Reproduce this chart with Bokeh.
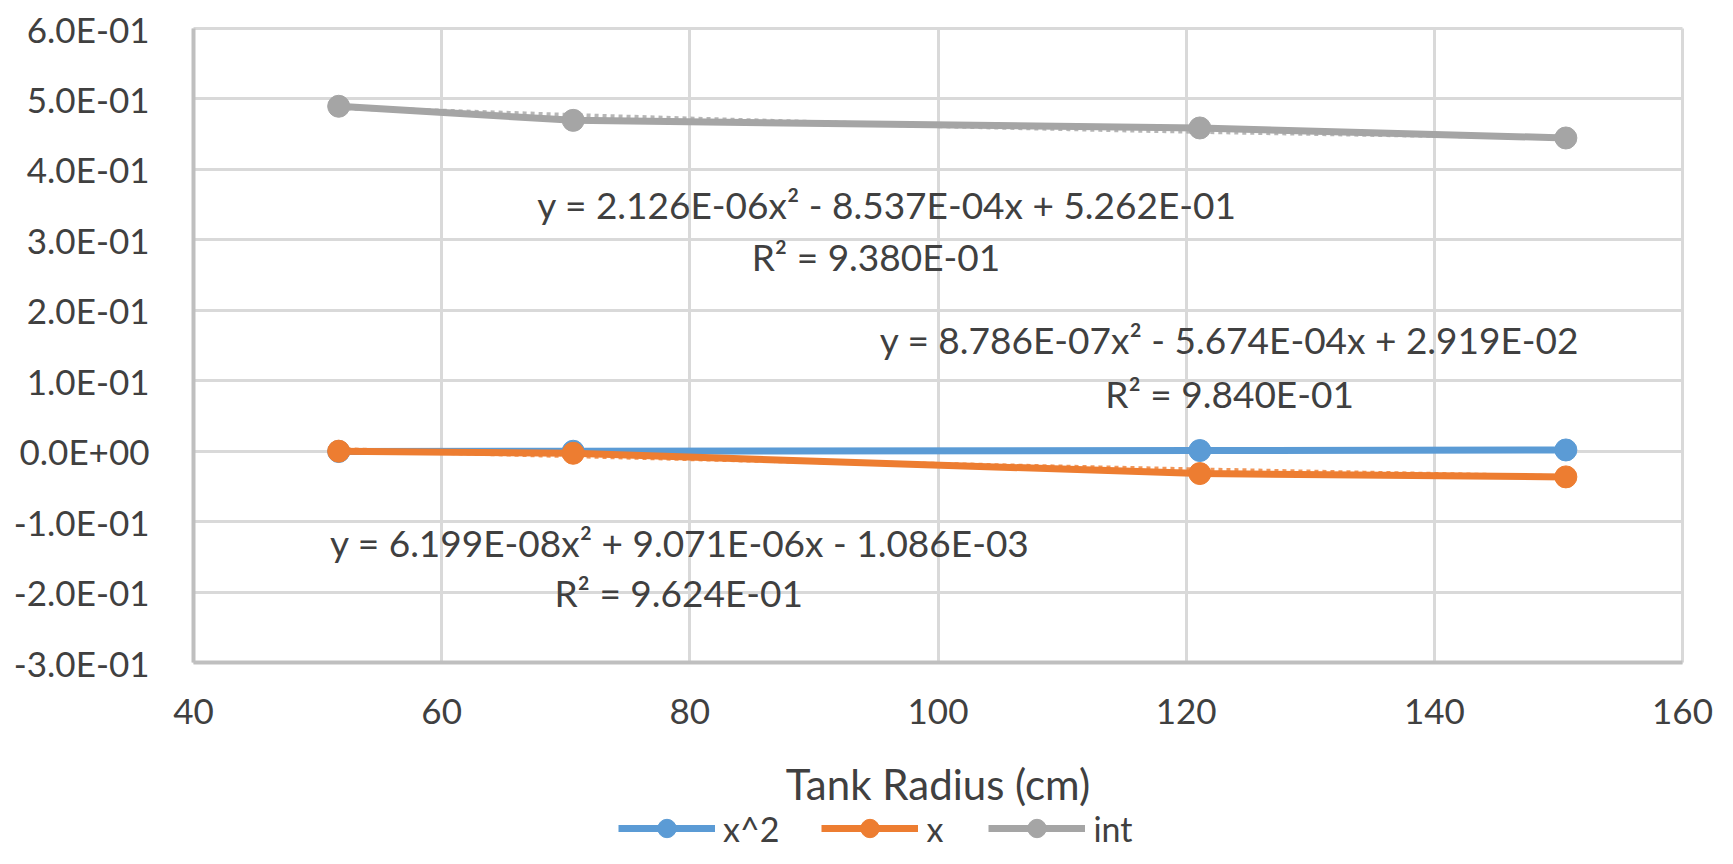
import numpy as np
from bokeh.plotting import figure
from bokeh.models import (ColumnDataSource, Range1d, FixedTicker, CustomJSTickFormatter,
                          Label, Legend, LegendItem)
from bokeh.embed import file_html
from bokeh.resources import INLINE

# ---------------- data ----------------
radius = [51.7, 70.6, 121.1, 150.6]
series_names = ["x^2", "x", "int"]
coef_x2 = [-0.0005, -0.0001, 0.0009, 0.0017]
coef_x = [0.0, -0.003, -0.0318, -0.0365]
coef_int = [0.4896, 0.4696, 0.4588, 0.4446]
colors = ["#5B9BD5", "#ED7D31", "#A5A5A5"]

# trendline coefficients (a, b, c) as printed on the chart: y = a x^2 + b x + c
trend_coefs = {
    "x^2": (6.199e-08, 9.071e-06, -1.086e-03),
    "x": (8.786e-07, -5.674e-04, 2.919e-02),
    "int": (2.126e-06, -8.537e-04, 5.262e-01),
}
trend_eq_text = {
    "int": ("y = 2.126E-06x\u00b2 - 8.537E-04x + 5.262E-01", "R\u00b2 = 9.380E-01"),
    "x": ("y = 8.786E-07x\u00b2 - 5.674E-04x + 2.919E-02", "R\u00b2 = 9.840E-01"),
    "x^2": ("y = 6.199E-08x\u00b2 + 9.071E-06x - 1.086E-03", "R\u00b2 = 9.624E-01"),
}
# label anchor positions (data coordinates)
trend_label_pos = {
    "int": ((95.9, 0.350), (95.0, 0.276)),
    "x": ((123.5, 0.158), (123.5, 0.082)),
    "x^2": ((79.2, -0.129), (79.1, -0.2005)),
}

x_min, x_max = 40, 160
y_min, y_max = -0.3, 0.6
x_ticks = [40, 60, 80, 100, 120, 140, 160]
y_ticks = [-0.3, -0.2, -0.1, 0.0, 0.1, 0.2, 0.3, 0.4, 0.5, 0.6]
y_tick_labels = ["-3.0E-01", "-2.0E-01", "-1.0E-01", "0.0E+00", "1.0E-01",
                 "2.0E-01", "3.0E-01", "4.0E-01", "5.0E-01", "6.0E-01"]
x_title = "Tank Radius (cm)"

FONT = "Lato"
TXT = "#404040"

# ---------------- layout ----------------
# The frame covers the whole canvas; the axes are pinned at x=40 / y=-0.3 so
# tick labels, axis title and legend all sit inside the drawable area.
W, H = 1717, 848
PLOT_L, PLOT_R, PLOT_T, PLOT_B = 193, 1682, 28, 662   # pixel box of the data area
ppx = (PLOT_R - PLOT_L) / (x_max - x_min)
ppy = (PLOT_B - PLOT_T) / (y_max - y_min)
x_lo = x_min - PLOT_L / ppx
x_hi = x_lo + W / ppx
y_hi = y_max + PLOT_T / ppy
y_lo = y_hi - H / ppy

p = figure(width=W, height=H, output_backend="svg", toolbar_location=None,
           x_range=Range1d(x_lo, x_hi), y_range=Range1d(y_lo, y_hi),
           min_border_left=0, min_border_right=0, min_border_top=0,
           min_border_bottom=0)
p.outline_line_color = None
p.background_fill_color = "white"
p.border_fill_color = "white"

p.xaxis.ticker = FixedTicker(ticks=x_ticks)
p.yaxis.ticker = FixedTicker(ticks=y_ticks)
p.yaxis.formatter = CustomJSTickFormatter(args=dict(tvals=y_ticks, tlabels=y_tick_labels), code="""
let best = 0;
for (let i = 0; i < tvals.length; i++) {
  if (Math.abs(tvals[i] - tick) < Math.abs(tvals[best] - tick)) best = i;
}
return tlabels[best];
""")
p.xaxis.fixed_location = y_min
p.xaxis.bounds = (x_min, x_max)
p.yaxis.fixed_location = x_min
p.yaxis.bounds = (y_min, y_max)

for ax in (p.xaxis, p.yaxis):
    ax.axis_line_color = "#BFBFBF"
    ax.axis_line_width = 4
    ax.major_tick_line_color = None
    ax.minor_tick_line_color = None
    ax.major_label_text_font = FONT
    ax.major_label_text_font_size = "35px"
    ax.major_label_text_color = TXT
p.xaxis.major_label_standoff = 30
p.yaxis.major_label_standoff = 38

p.xaxis.axis_label = x_title
p.xaxis.axis_label_text_font = FONT
p.xaxis.axis_label_text_font_size = "42px"
p.xaxis.axis_label_text_font_style = "normal"
p.xaxis.axis_label_text_color = TXT
p.xaxis.axis_label_standoff = 32

p.grid.grid_line_color = "#D9D9D9"
p.grid.grid_line_width = 3
xg, yg = p.xgrid[0], p.ygrid[0]
if "cross_bounds" in xg.properties():
    xg.cross_bounds = (y_min, y_max)
    yg.cross_bounds = (x_min, x_max)
xg.bounds = (x_min, x_max)
yg.bounds = (y_min, y_max)

# ---------------- trendlines ----------------
tx = np.linspace(radius[0], radius[-1], 80)
for name, col in zip(series_names, colors):
    a, b, c = trend_coefs[name]
    ty = a * tx ** 2 + b * tx + c
    p.line(tx, ty, line_color=col, line_width=5, line_dash="4 4", line_alpha=0.8)

# ---------------- series ----------------
series_vals = [coef_x2, coef_x, coef_int]
items = []
for name, col, vals in zip(series_names, colors, series_vals):
    src = ColumnDataSource(dict(x=radius, y=vals))
    r1 = p.line("x", "y", source=src, line_color=col, line_width=7)
    r2 = p.scatter("x", "y", source=src, marker="circle", size=22,
                   fill_color=col, line_color=col)
    items.append(LegendItem(label=name, renderers=[r1, r2]))

# ---------------- trendline labels ----------------
for name in series_names:
    (l1, l2) = trend_eq_text[name]
    (p1, p2) = trend_label_pos[name]
    for txt, pos in ((l1, p1), (l2, p2)):
        p.add_layout(Label(x=pos[0], y=pos[1], text=txt, text_align="center",
                           text_baseline="middle", text_font=FONT,
                           text_font_size="37px", text_color=TXT))

# ---------------- legend ----------------
legend = Legend(items=items, orientation="horizontal", location=(618, -3),
                glyph_width=97, glyph_height=46, label_height=40,
                label_standoff=8, spacing=42, padding=0, margin=0,
                border_line_color=None, background_fill_alpha=0,
                label_text_font=FONT, label_text_font_size="34px",
                label_text_color=TXT)
p.add_layout(legend, "center")

open("out.html", "w").write(file_html(p, INLINE))
